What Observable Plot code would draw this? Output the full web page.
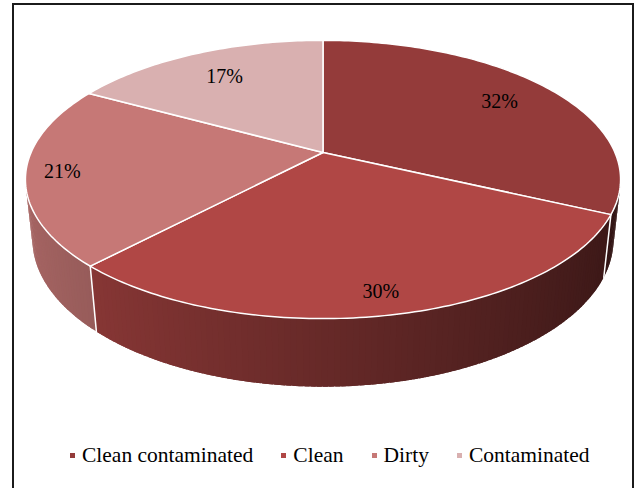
<!DOCTYPE html>
<html>
<head>
<meta charset="utf-8">
<script src="https://cdn.jsdelivr.net/npm/d3@7"></script>
<script src="https://cdn.jsdelivr.net/npm/@observablehq/plot@0.6"></script>
<style>
  html, body { margin: 0; padding: 0; background: #fff; }
  #frame { position: absolute; left: 12px; top: 3px; width: 618px; height: 520px; border: 2px solid #1b1b1b; }
  #chart { position: absolute; left: 0; top: 0; }
  #key { position: absolute; left: 70px; top: 443px; }
  #key > div {
    font-family: "Liberation Serif", "Times New Roman", serif;
    font-size: 21.5px; line-height: 25px; min-height: 0; margin: 0;
    color: #000; flex-wrap: nowrap; white-space: nowrap;
  }
  #key span { margin-right: 28px; }
  #key svg { margin-right: 7px; }
</style>
</head>
<body>
<div id="frame"></div>
<div id="chart"></div>
<div id="key"></div>
<script>
// Wound classes and their shares (percent)
const categories = ["Clean contaminated", "Clean", "Dirty", "Contaminated"];
const shares = [32, 30, 21, 17];
const colors = ["#943b3a", "#b04745", "#c67876", "#d9b0b0"];

// Perspective camera looking down on a unit disk (top face at z = 0)
const tilt = 27.3 * Math.PI / 180;
const eye = 4.58, focal = 1337, originX = 322.5, originY = 152;
const thickness = 0.2325;

function view(X, Y, Z) {
  const up = Y * Math.sin(tilt) + Z * Math.cos(tilt);
  const depth = eye + Y * Math.cos(tilt) - Z * Math.sin(tilt);
  return [originX + focal * X / depth, originY - focal * up / depth];
}

const projection = d3.geoTransform({
  point(x, y, z) {
    const [px, py] = view(x, y, z || 0);
    this.stream.point(px, py);
  }
});

// Slices run clockwise from twelve o'clock
const total = d3.sum(shares);
let acc = 0;
const slices = categories.map((name, i) => {
  const a0 = acc / total * 2 * Math.PI;
  acc += shares[i];
  const a1 = acc / total * 2 * Math.PI;
  return {name, value: shares[i], color: colors[i], a0, a1, mid: (a0 + a1) / 2};
});

const deg = Math.PI / 180;
function arcPoints(a0, a1, z) {
  const n = Math.max(2, Math.ceil((a1 - a0) / deg));
  return d3.range(n + 1).map(k => {
    const a = a0 + (a1 - a0) * k / n;
    return [Math.sin(a), Math.cos(a), z];
  });
}

const tops = slices.map(s => ({
  type: "Feature",
  properties: s,
  geometry: {type: "Polygon", coordinates: [[[0, 0, 0], ...arcPoints(s.a0, s.a1, 0), [0, 0, 0]]]}
}));

// Outer wall: only the part facing the camera, cut into thin shaded strips
// that overlap a little so no hairline gaps show between them
const lo = Math.acos(-1 / (eye * Math.cos(tilt))), hi = 2 * Math.PI - lo;
function shade(color, a) {
  const c = d3.rgb(color), k = Math.max(0.3, Math.min(0.9, 0.583 - 0.263 * Math.sin(a)));
  return d3.rgb(c.r * k, c.g * k, c.b * k).formatHex();
}
const strips = [];
for (const s of slices) {
  const b0 = Math.max(s.a0, lo - 0.03), b1 = Math.min(s.a1, hi + 0.03);
  if (b1 <= b0) continue;
  const n = Math.ceil((b1 - b0) / deg);
  const step = (b1 - b0) / n;
  for (let k = 0; k < n; k++) {
    const t0 = b0 + step * k;
    const t1 = Math.min(b1, t0 + step * 1.8);
    const ring = arcPoints(t0, t1, 0).concat(arcPoints(t0, t1, -thickness).reverse());
    ring.push(ring[0]);
    strips.push({
      type: "Feature",
      properties: {fill: shade(s.color, t0 + step / 2)},
      geometry: {type: "Polygon", coordinates: [ring]}
    });
  }
}

// White seams where slices meet on the visible wall
const seams = slices
  .filter(s => s.a0 > lo && s.a0 < hi)
  .map(s => ({
    type: "Feature",
    properties: {},
    geometry: {type: "LineString", coordinates: [
      [Math.sin(s.a0), Math.cos(s.a0), 0], [Math.sin(s.a0), Math.cos(s.a0), -thickness]
    ]}
  }));

// Labels sit nearer the rim on the front of the disk than at the back
const labelRadius = s => 0.88 - 0.145 * Math.sqrt(Math.max(0, Math.cos(s.mid)));

const chart = Plot.plot({
  width: 635,
  height: 420,
  margin: 0,
  projection,
  color: {type: "identity"},
  style: {background: "transparent", overflow: "visible", fontFamily: "Liberation Serif, serif"},
  marks: [
    Plot.geo(strips, {fill: d => d.properties.fill}),
    Plot.geo(seams, {stroke: "#fff", strokeWidth: 1.5}),
    Plot.geo(tops, {fill: d => d.properties.color, stroke: "#fff", strokeWidth: 1.5, strokeLinejoin: "round"}),
    Plot.text(slices, {
      x: s => labelRadius(s) * Math.sin(s.mid),
      y: s => labelRadius(s) * Math.cos(s.mid),
      text: s => `${s.value}%`,
      fontSize: 20,
      fontFamily: "Liberation Serif, serif",
      fill: "#000"
    })
  ]
});
document.getElementById("chart").append(chart);

const key = Plot.legend({
  color: {type: "ordinal", domain: categories, range: colors},
  swatchSize: 5
});
document.getElementById("key").append(key);
</script>
</body>
</html>
